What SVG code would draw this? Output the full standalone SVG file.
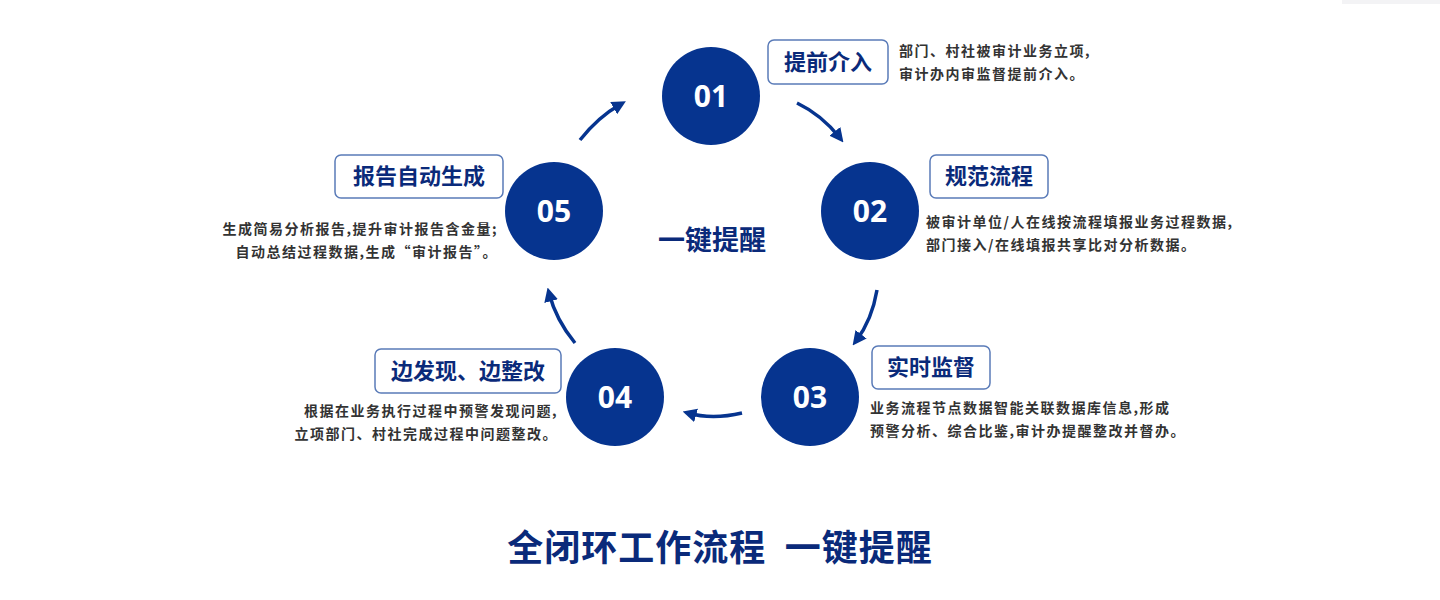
<svg xmlns="http://www.w3.org/2000/svg" width="1440" height="600" viewBox="0 0 1440 600">
<style>
.c{fill:#06348f}
.n{fill:#fff;font:bold 30px "Open Sans","Liberation Sans",sans-serif;text-anchor:middle}
.b{fill:#fff;stroke:#5a7bb8;stroke-width:1.5}
.l{fill:#0a2a7a;font:bold 22px "Noto Sans CJK SC",sans-serif;text-anchor:middle}
.d{fill:#333;font:bold 14px "Noto Sans CJK SC",sans-serif;letter-spacing:1.5px}
.a{fill:none;stroke:#06348f;stroke-width:3.5}
</style>
<defs><marker id="m" viewBox="0 0 10 10" refX="6" refY="5" markerWidth="4" markerHeight="4" orient="auto"><path d="M0,0L10,5L0,10z" fill="#06348f"/></marker></defs>
<rect x="1342" y="0" width="98" height="4" fill="#f3f3f5"/>
<g id="connectors">
<path class="a" marker-end="url(#m)" d="M797,103Q822,115 840,138"/>
<path class="a" marker-end="url(#m)" d="M877,290Q872,320 856,341"/>
<path class="a" marker-end="url(#m)" d="M742,413Q712,420 688,413"/>
<path class="a" marker-end="url(#m)" d="M575,343Q556,320 549,293"/>
<path class="a" marker-end="url(#m)" d="M580,140Q598,117 621,104"/>
</g>
<g id="n01"><circle class="c" cx="711" cy="96" r="49"/><text class="n" x="711" y="107">01</text>
<rect class="b" x="768" y="40" width="120" height="44" rx="6"/><text class="l" x="828" y="70">提前介入</text>
<text class="d" x="899" y="56">部门、村社被审计业务立项,</text><text class="d" x="899" y="79">审计办内审监督提前介入。</text></g>
<g id="n02"><circle class="c" cx="870" cy="211" r="49"/><text class="n" x="870" y="222">02</text>
<rect class="b" x="930" y="155" width="118" height="43" rx="6"/><text class="l" x="989" y="184">规范流程</text>
<text class="d" x="926" y="227">被审计单位/人在线按流程填报业务过程数据,</text><text class="d" x="926" y="250">部门接入/在线填报共享比对分析数据。</text></g>
<g id="n03"><circle class="c" cx="810" cy="397" r="49"/><text class="n" x="810" y="408">03</text>
<rect class="b" x="872" y="346" width="118" height="43" rx="6"/><text class="l" x="931" y="375">实时监督</text>
<text class="d" x="870" y="413">业务流程节点数据智能关联数据库信息,形成</text><text class="d" x="870" y="436">预警分析、综合比鉴,审计办提醒整改并督办。</text></g>
<g id="n04"><circle class="c" cx="615" cy="397" r="49"/><text class="n" x="615" y="408">04</text>
<rect class="b" x="375" y="349" width="186" height="44" rx="6"/><text class="l" x="468" y="379">边发现、边整改</text>
<text class="d" x="558" y="416" text-anchor="end">根据在业务执行过程中预警发现问题,</text><text class="d" x="558" y="439" text-anchor="end">立项部门、村社完成过程中问题整改。</text></g>
<g id="n05"><circle class="c" cx="554" cy="211" r="49"/><text class="n" x="554" y="222">05</text>
<rect class="b" x="335" y="155" width="168" height="43" rx="6"/><text class="l" x="419" y="184">报告自动生成</text>
<text class="d" x="498" y="234" text-anchor="end">生成简易分析报告,提升审计报告含金量;</text><text class="d" x="498" y="257" text-anchor="end">自动总结过程数据,生成“审计报告”。</text></g>
<text x="712" y="250" style="fill:#0a2a7a;font:bold 27px 'Noto Sans CJK SC',sans-serif;text-anchor:middle">一键提醒</text>
<text x="720" y="561" style="fill:#0a2a7a;font:bold 36px 'Noto Sans CJK SC',sans-serif;text-anchor:middle;letter-spacing:1px" xml:space="preserve">全闭环工作流程  一键提醒</text>
</svg>
